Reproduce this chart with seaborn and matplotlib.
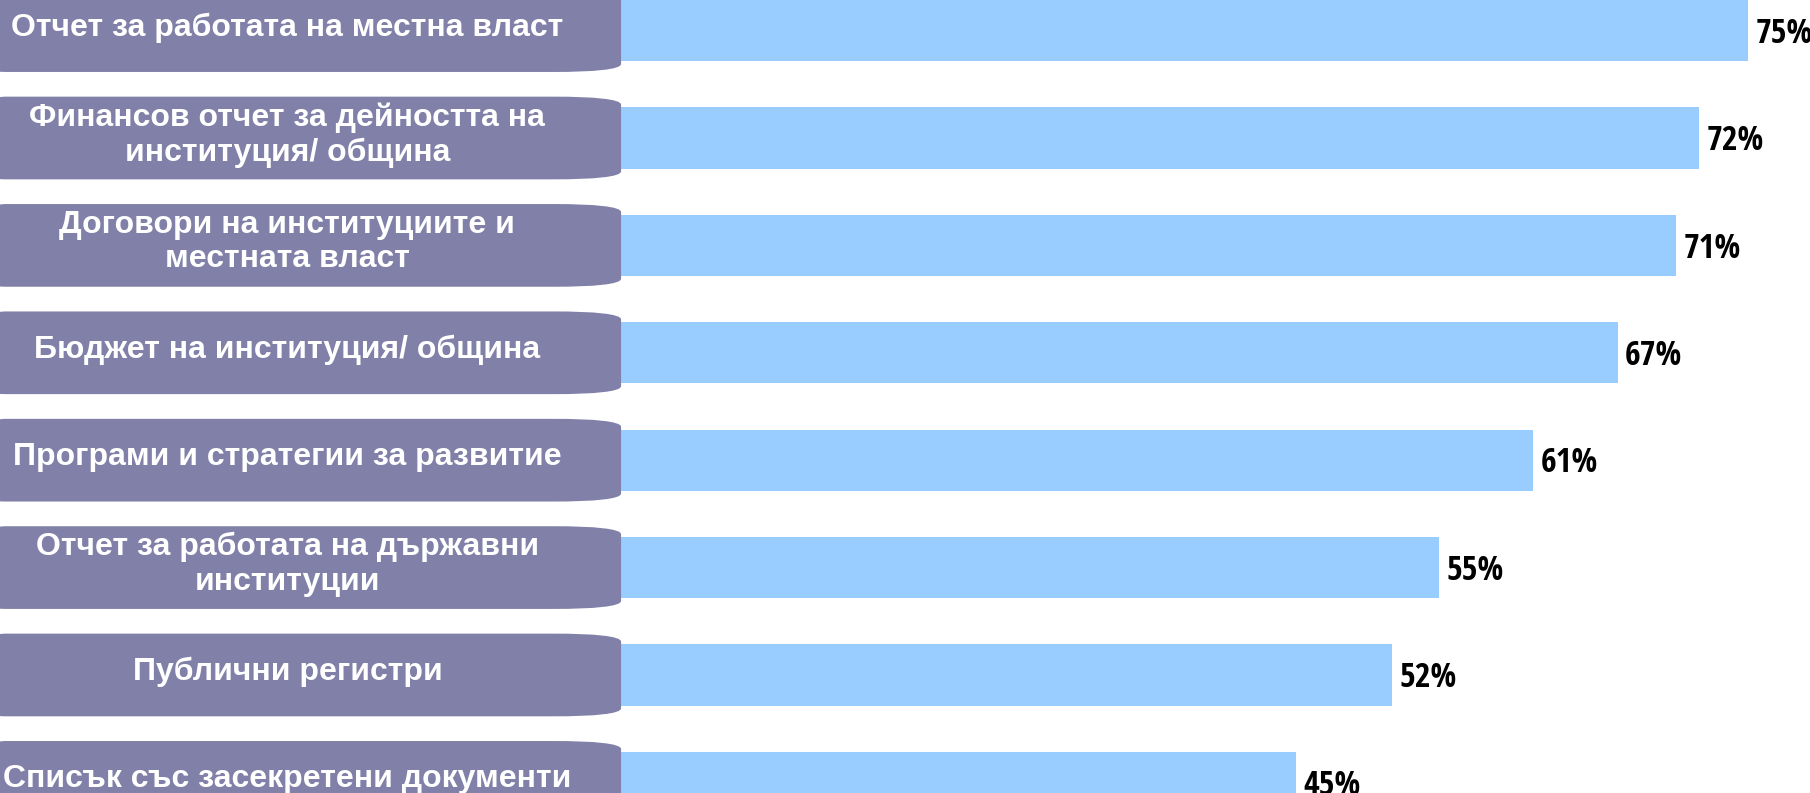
import matplotlib
matplotlib.use("Agg")
import matplotlib.pyplot as plt
import seaborn as sns
import pandas as pd
from matplotlib.path import Path
from matplotlib.patches import PathPatch
from matplotlib import font_manager as fm

# ---- data ----
categories = [
    "Отчет за работата на местна власт",
    "Финансов отчет за дейността на\nинституция/ община",
    "Договори на институциите и\nместната власт",
    "Бюджет на институция/ община",
    "Програми и стратегии за развитие",
    "Отчет за работата на държавни\nинституции",
    "Публични регистри",
    "Списък със засекретени документи",
]
values = [75.4, 72.1, 70.6, 66.7, 61.1, 54.8, 51.7, 45.3]
value_labels = ["75%", "72%", "71%", "67%", "61%", "55%", "52%", "45%"]

BAR_COLOR = "#99CCFF"
BOX_COLOR = "#8080A8"

sns.set_theme(style="white")
plt.rcParams["font.family"] = ["Liberation Sans", "DejaVu Sans"]


def _wt(w):
    if isinstance(w, str):
        return fm.weight_dict.get(w, 400)
    return w


def find_narrow_bold():
    prefs = [
        lambda f: "LiberationSansNarrow-Bold." in f.fname,
        lambda f: "NotoSans-CondensedBold." in f.fname,
        lambda f: "OpenSans-CondBold" in f.fname or "OpenSansCondensed-Bold." in f.fname,
        lambda f: "RobotoCondensed-Bold." in f.fname,
        lambda f: "DejaVuSansCondensed-Bold." in f.fname,
        lambda f: ("narrow" in f.fname.lower() or "condensed" in f.fname.lower())
        and "semi" not in f.fname.lower() and "extra" not in f.fname.lower()
        and _wt(f.weight) >= 700 and f.style == "normal",
    ]
    for p in prefs:
        for f in fm.fontManager.ttflist:
            try:
                if p(f):
                    return f.fname
            except Exception:
                pass
    return None


narrow = find_narrow_bold()
if narrow is not None:
    pct_fp = fm.FontProperties(fname=narrow, size=24.5)
    if "DejaVu" in narrow:
        pct_fp.set_size(21)
else:
    pct_fp = fm.FontProperties(family="Liberation Sans", weight="bold", size=19)

W, H, DPI = 1810, 793, 100
fig = plt.figure(figsize=(W / DPI, H / DPI), dpi=DPI)
ax = fig.add_axes([0, 0, 1, 1])

df = pd.DataFrame({"cat": categories, "val": values})
sns.barplot(data=df, x="val", y="cat", orient="h", color=BAR_COLOR,
            saturation=1, width=0.57, linewidth=0, ax=ax, zorder=2)

ax.set_xlim(-40.92, 79.5)
ax.set_ylim(7.099, -0.285)
ax.axis("off")

# label boxes (flag-like shapes with soft right corners)
x0, x1 = -41.5, 0.4
half_h = 0.385
rx, ry = 4.5, 0.075
lrx, lry = 1.0, 0.03
for i, cat in enumerate(categories):
    yt, yb = i - half_h, i + half_h
    verts = [
        (x0 + lrx, yt),
        (x1 - rx, yt),
        (x1 - rx * 0.4, yt), (x1, yt + ry * 0.3), (x1, yt + ry),
        (x1, yb - ry),
        (x1, yb - ry * 0.3), (x1 - rx * 0.4, yb), (x1 - rx, yb),
        (x0 + lrx, yb),
        (x0, yb), (x0, yb - lry), (x0, yb - lry),
        (x0, yt + lry),
        (x0, yt), (x0 + lrx, yt), (x0 + lrx, yt),
        (x0 + lrx, yt),
    ]
    codes = [Path.MOVETO, Path.LINETO,
             Path.CURVE4, Path.CURVE4, Path.CURVE4,
             Path.LINETO,
             Path.CURVE4, Path.CURVE4, Path.CURVE4,
             Path.LINETO,
             Path.CURVE4, Path.CURVE4, Path.CURVE4,
             Path.LINETO,
             Path.CURVE4, Path.CURVE4, Path.CURVE4,
             Path.CLOSEPOLY]
    patch = PathPatch(Path(verts, codes), facecolor=BOX_COLOR,
                      edgecolor="none", zorder=3)
    ax.add_patch(patch)
    ax.text(-21.8, i - 0.03, cat, color="white", fontsize=23,
            fontweight="bold", ha="center", va="center",
            linespacing=1.2, zorder=4,
            family=["Liberation Sans", "DejaVu Sans"])

# value labels: baseline placed so the digits are centred on the bar
cap_pt = 0.716 * pct_fp.get_size_in_points()
for i, (v, lab) in enumerate(zip(values, value_labels)):
    ax.annotate(lab, xy=(v, i), xytext=(5.5, -cap_pt / 2),
                textcoords="offset points", ha="left", va="baseline",
                fontproperties=pct_fp, color="black", zorder=4,
                annotation_clip=False)

fig.savefig("out.png", dpi=DPI, facecolor="white")
